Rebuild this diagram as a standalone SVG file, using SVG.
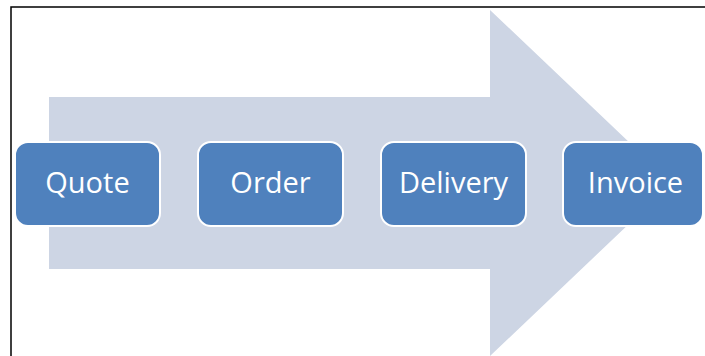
<svg xmlns="http://www.w3.org/2000/svg" width="705" height="356" viewBox="0 0 705 356">
<style>
.box{fill:#4F81BD;stroke:#FFFFFF;stroke-width:2}
.lbl{font-family:"Open Sans","Noto Sans",sans-serif;font-size:29px;fill:#FFFFFF;text-anchor:middle}
</style>
<rect x="0" y="0" width="705" height="356" fill="#FFFFFF"/>
<g id="arrow">
<polygon points="49,97 490,97 490,10 672,183 490,356 490,269 49,269" fill="#CDD5E4"/>
</g>
<g id="connectors"></g>
<g id="quote"><rect class="box" x="15" y="142" width="145" height="84" rx="13"/><text class="lbl" x="87.5" y="193">Quote</text></g>
<g id="order"><rect class="box" x="198" y="142" width="145" height="84" rx="13"/><text class="lbl" x="270.5" y="193">Order</text></g>
<g id="delivery"><rect class="box" x="381" y="142" width="145" height="84" rx="13"/><text class="lbl" x="453.5" y="193">Delivery</text></g>
<g id="invoice"><rect class="box" x="563" y="142" width="140" height="84" rx="13"/><text class="lbl" x="635.5" y="193">Invoice</text></g>
<g id="frame"><path d="M11,356 V7 H705" fill="none" stroke="#000000" stroke-width="1.5"/></g>
</svg>
